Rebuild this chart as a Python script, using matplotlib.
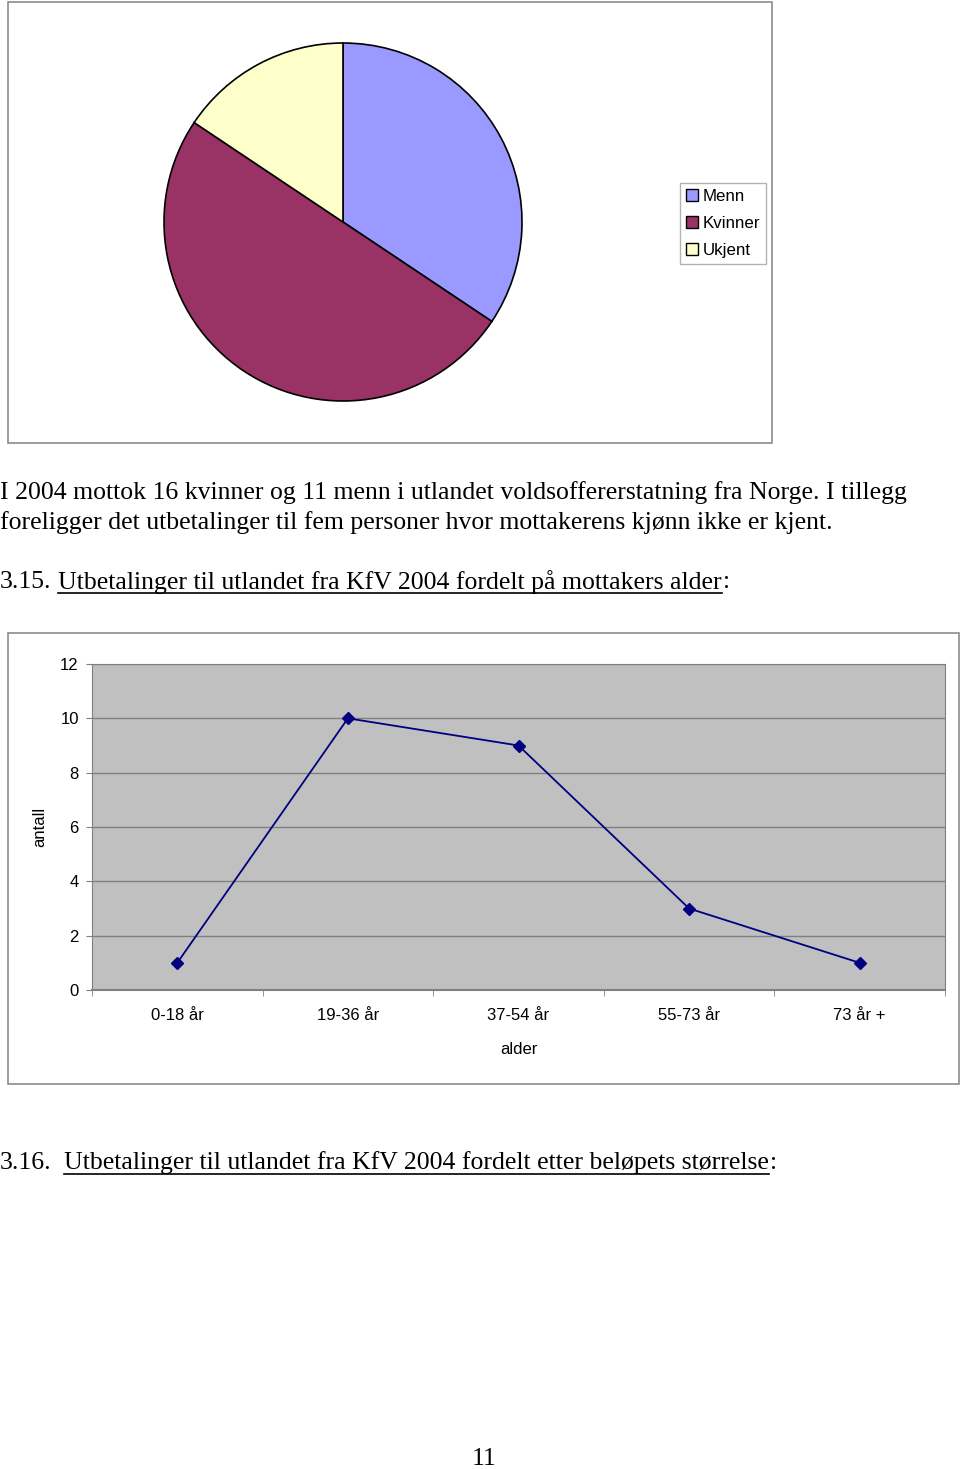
import matplotlib
matplotlib.use("Agg")
from matplotlib import pyplot as plt
from matplotlib.patches import Rectangle
from matplotlib.lines import Line2D

# kake: mottakere etter kjønn
kjonn = ["Menn", "Kvinner", "Ukjent"]
antall_kjonn = [11, 16, 5]
farger = ["#9999FF", "#993366", "#FFFFCC"]

# linje: utbetalinger etter alder
aldersgrupper = ["0-18 år", "19-36 år", "37-54 år", "55-73 år", "73 år +"]
antall_alder = [1, 10, 9, 3, 1]
y_ticks = [0, 2, 4, 6, 8, 10, 12]

W, H = 960, 1469
fig = plt.figure(figsize=(W / 100, H / 100), dpi=100)
fig.patch.set_facecolor("white")


def fx(x):
    return x / W


def fy(y):
    return 1 - y / H


def boks(x0, y0, x1, y1):
    fig.patches.append(Rectangle((fx(x0), fy(y1)), fx(x1) - fx(x0), fy(y0) - fy(y1),
                                 transform=fig.transFigure, fill=False,
                                 edgecolor="#8c8c8c", linewidth=1.2))


# ramme rundt kakediagram
boks(8, 2, 772, 443)
r = 179
ax1 = fig.add_axes([fx(343 - r), fy(222 + r), fx(2 * r), 2 * r / H])
ax1.pie(antall_kjonn, colors=farger, startangle=90, counterclock=False,
        wedgeprops=dict(edgecolor="black", linewidth=1.2))
ax1.set_aspect("equal")
ax1.set_xlim(-1.0, 1.0)
ax1.set_ylim(-1.0, 1.0)

handles = [Rectangle((0, 0), 1, 1, facecolor=c, edgecolor="black", linewidth=1) for c in farger]
leg = fig.legend(handles, kjonn, loc="upper left", bbox_to_anchor=(fx(680), fy(183)),
                 prop={"family": "Liberation Sans", "size": 12.2}, frameon=True, fancybox=False,
                 handlelength=0.7, handleheight=0.7, handletextpad=0.3, labelspacing=0.72,
                 borderpad=0.35, borderaxespad=0)
leg.get_frame().set_edgecolor("#a0a0a0")
leg.get_frame().set_linewidth(1)

serif = {"family": "Liberation Serif", "size": 18.5}

fig.text(0, fy(493), "I 2004 mottok 16 kvinner og 11 menn i utlandet voldsoffererstatning fra Norge. I tillegg",
         va="center", ha="left", **serif)
fig.text(0, fy(523), "foreligger det utbetalinger til fem personer hvor mottakerens kjønn ikke er kjent.",
         va="center", ha="left", **serif)


def overskrift(y, nr, tittel, x_tittel):
    fig.text(0, fy(y), nr, va="center", ha="left", **serif)
    t2 = fig.text(fx(x_tittel), fy(y), tittel, va="center", ha="left", **serif)
    fig.canvas.draw()
    bb = t2.get_window_extent()
    fig.text(fx(bb.x1 + 1), fy(y), ":", va="center", ha="left", **serif)
    fig.lines.append(Line2D([fx(bb.x0), fx(bb.x1)], [fy(y + 11), fy(y + 11)],
                            transform=fig.transFigure, color="black", linewidth=1.2))


overskrift(582, "3.15.", "Utbetalinger til utlandet fra KfV 2004 fordelt på mottakers alder", 58)

# ramme rundt linjediagram
boks(8, 633, 959, 1084)
ax2 = fig.add_axes([fx(92), fy(990), fx(945 - 92), (990 - 664) / H])
ax2.set_facecolor("#C0C0C0")
x = list(range(len(aldersgrupper)))
ax2.plot(x, antall_alder, color="#000080", linewidth=1.3, marker="D", markersize=6,
         markerfacecolor="#000080", markeredgecolor="#000080", zorder=3)
ax2.set_xlim(-0.5, len(aldersgrupper) - 0.5)
ax2.set_ylim(0, 12)
ax2.set_yticks(y_ticks)
ax2.set_xticks(x)
ax2.set_xticklabels(aldersgrupper)
ax2.set_xticks([i + 0.5 for i in range(-1, len(aldersgrupper))], minor=True)
ax2.tick_params(axis="x", which="major", length=0, pad=13)
ax2.tick_params(axis="x", which="minor", length=4, color="#808080")
ax2.tick_params(axis="y", length=4, color="#808080", pad=5.5)
ax2.grid(axis="y", color="#808080", linewidth=1)
ax2.set_axisbelow(True)
for s in ["top", "right", "left"]:
    ax2.spines[s].set_color("#808080")
ax2.spines["bottom"].set_color("#808080")
ax2.spines["bottom"].set_linewidth(1.5)
for lab in ax2.get_xticklabels() + ax2.get_yticklabels():
    lab.set_family("Liberation Sans")
    lab.set_fontsize(12)
ax2.set_xlabel("alder", family="Liberation Sans", fontsize=12, labelpad=14)
ax2.set_ylabel("antall", family="Liberation Sans", fontsize=12, labelpad=9)

overskrift(1163, "3.16.", "Utbetalinger til utlandet fra KfV 2004 fordelt etter beløpets størrelse", 64)

fig.text(fx(484), fy(1459), "11", va="center", ha="center", **serif)

fig.savefig("out.png", dpi=100)
